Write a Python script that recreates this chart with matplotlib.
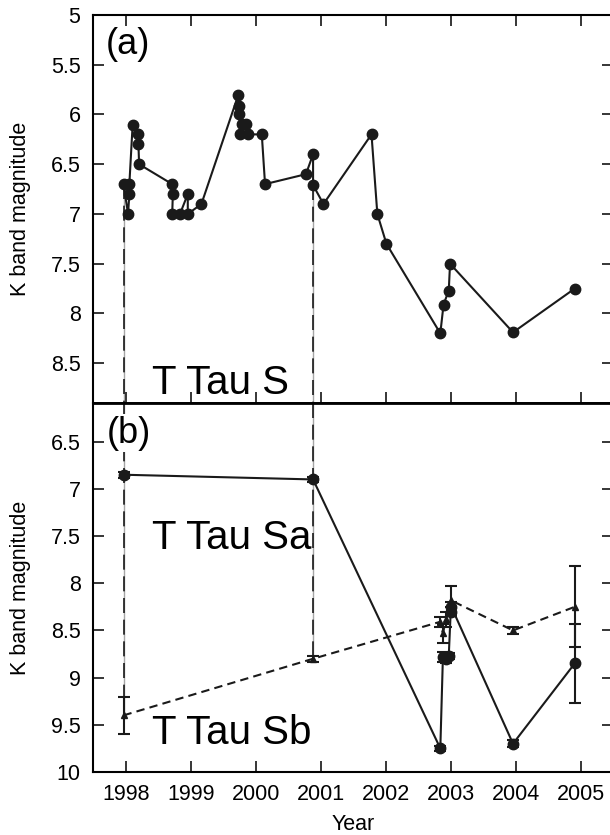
import matplotlib
matplotlib.use("Agg")
import matplotlib.pyplot as plt
from matplotlib.ticker import FuncFormatter, MultipleLocator

plt.rcParams['font.family'] = ['Liberation Sans', 'DejaVu Sans']

# (a) T Tau S, combined K magnitude
years_a = [1997.96, 1998.03, 1998.05, 1998.05, 1998.10, 1998.19, 1998.19, 1998.20,
           1998.71, 1998.72, 1998.71, 1998.83, 1998.95, 1998.95, 1999.16,
           1999.73, 1999.74, 1999.74, 1999.78, 1999.75, 1999.85, 1999.88, 2000.09,
           2000.14, 2000.77, 2000.88, 2000.88, 2001.04, 2001.78, 2001.87, 2002.01,
           2002.84, 2002.89, 2002.97, 2002.99, 2003.96, 2004.91]
mag_a = [6.70, 7.00, 6.80, 6.70, 6.11, 6.20, 6.30, 6.50,
         6.70, 6.80, 7.00, 7.00, 6.80, 7.00, 6.90,
         5.80, 5.91, 6.00, 6.10, 6.20, 6.10, 6.20, 6.20,
         6.70, 6.60, 6.40, 6.71, 6.90, 6.20, 7.00, 7.30,
         8.20, 7.91, 7.77, 7.50, 8.19, 7.75]

# (b) T Tau Sa
years_sa = [1997.96, 2000.88, 2002.84, 2002.88, 2002.92, 2002.97, 2003.00, 2003.01, 2003.96, 2004.91]
mag_sa = [6.85, 6.90, 9.75, 8.78, 8.80, 8.77, 8.30, 8.25, 9.70, 8.85]
err_sa = [0.03, 0.03, 0.03, 0.05, 0.05, 0.03, 0.05, 0.05, 0.04, 0.42]

# (b) T Tau Sb
years_sb = [1997.96, 2000.88, 2002.83, 2002.88, 2002.93, 2003.00, 2003.96, 2004.91]
mag_sb = [9.40, 8.80, 8.41, 8.53, 8.38, 8.18, 8.50, 8.25]
err_sb = [0.20, 0.03, 0.05, 0.10, 0.08, 0.15, 0.04, 0.43]

# epochs joining the two panels
epochs = [1997.96, 2000.88]
top_start = [6.70, 6.71]
sb_end = [9.40, 8.80]

W, H = 610, 835
fig = plt.figure(figsize=(W / 100, H / 100), dpi=100)
ax1 = fig.add_axes([93/W, 1 - 403/H, 520/W, 388/H])
ax2 = fig.add_axes([93/W, 1 - 772/H, 520/W, 369/H])

fmt = FuncFormatter(lambda v, p: '%g' % v)

for ax in (ax1, ax2):
    ax.set_xlim(1997.49, 2005.5)
    ax.xaxis.set_major_locator(MultipleLocator(1))
    ax.yaxis.set_major_locator(MultipleLocator(0.5))
    ax.yaxis.set_major_formatter(fmt)
    ax.tick_params(direction='in', length=8, width=1.1, labelsize=15.5, right=True, pad=9)
    for s in ax.spines.values():
        s.set_linewidth(1.5)
    ax.set_ylabel('K band magnitude', fontsize=15.5, labelpad=14)

ax1.tick_params(top=True, labelbottom=False)
ax2.tick_params(top=False)
ax2.tick_params(axis='x', pad=9)
ax1.spines['bottom'].set_linewidth(2)
ax2.spines['top'].set_linewidth(2)

ax1.set_ylim(8.9, 5.0)
ax2.set_ylim(10.0, 6.09)

# vertical connectors
for x, y0, y1 in zip(epochs, top_start, sb_end):
    for ax, ya, yb in ((ax1, y0, 8.9), (ax2, 6.09, y1)):
        ax.plot([x, x], [ya, yb], color='0.65', lw=1.0, zorder=1)
        ax.plot([x, x], [ya, yb], color='0.1', lw=1.2, dashes=(9, 4), zorder=1)

ax1.plot(years_a, mag_a, '-o', color='0.1', lw=1.5, ms=7.5, zorder=3)

ax2.errorbar(years_sa, mag_sa, yerr=err_sa, fmt='-o', color='0.1', lw=1.5, ms=7.5,
             elinewidth=1.5, capsize=4, capthick=1.5, zorder=3)
ax2.errorbar(years_sb, mag_sb, yerr=err_sb, fmt='^', ls=(0, (4, 2.5)), color='0.1', lw=1.5,
             ms=5, elinewidth=1.5, capsize=4, capthick=1.5, zorder=3)

ax1.text(0.025, 0.923, '(a)', transform=ax1.transAxes, fontsize=26, va='center', ha='left')
ax2.text(0.027, 0.918, '(b)', transform=ax2.transAxes, fontsize=26, va='center', ha='left',
         bbox=dict(facecolor='white', edgecolor='none', pad=1), zorder=5)
fig.text(152/W, 1 - 383/H, 'T Tau S', fontsize=29, va='center', ha='left')
fig.text(152/W, 1 - 538/H, 'T Tau Sa', fontsize=29, va='center', ha='left')
fig.text(152/W, 1 - 733/H, 'T Tau Sb', fontsize=29, va='center', ha='left')

ax2.set_xlabel('Year', fontsize=15.5, labelpad=6)

fig.savefig('out.png', dpi=100)
